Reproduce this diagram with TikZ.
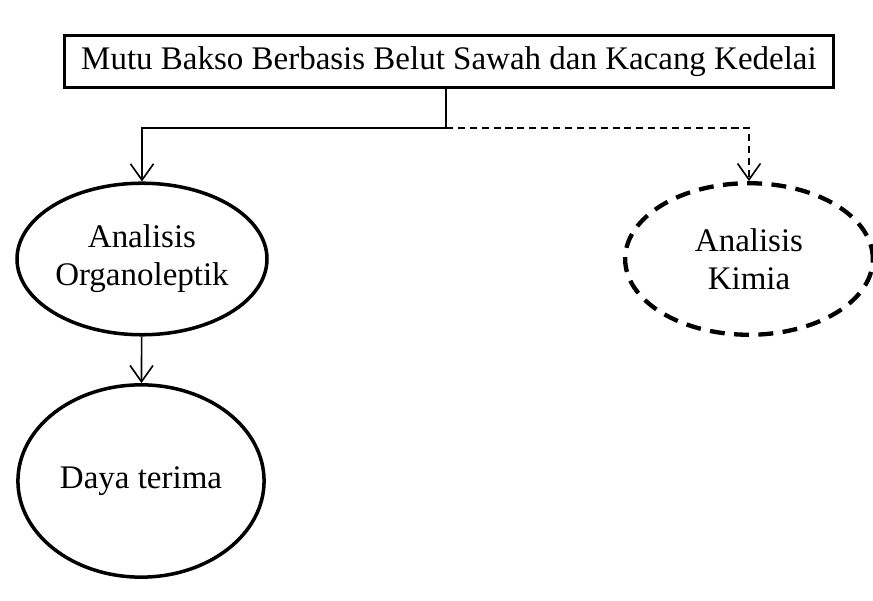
\documentclass[tikz,border=0pt]{standalone}
\usepackage{fontspec}
\setmainfont{Liberation Serif}
\usetikzlibrary{shapes.geometric,arrows.meta}

\begin{document}
\begin{tikzpicture}[x=0.013cm,y=-0.013cm,
	font=\fontsize{12.2}{14}\selectfont,
	kotak/.style={draw,line width=1.1pt,minimum width=10cm,minimum height=0.68cm,inner sep=0pt},
	elips/.style={draw,ellipse,line width=1.3pt,align=center,inner sep=0pt},
	panah/.style={line width=0.6pt,-{Straight Barb[length=6pt,width=8.5pt]}}]
	\useasboundingbox (0,0) rectangle (873,601);
	\node[kotak] (mutu) at (449,61.5) {Mutu Bakso Berbasis Belut Sawah dan Kacang Kedelai};
	\node[elips,minimum width=3.25cm,minimum height=1.97cm] (org) at (142,259) {Analisis\\Organoleptik};
	\node[elips,minimum width=3.2cm,minimum height=2.5cm] (daya) at (141,481) {Daya terima};
	\node[elips,dash pattern=on 5.5pt off 3.5pt,line width=1.6pt,minimum width=3.22cm,minimum height=1.97cm] (kim) at (749,259) {Analisis\\Kimia};
	\coordinate (cab) at (446,128);
	\draw[line width=0.6pt] (mutu.south -| cab) -- (cab);
	\draw[panah] (cab) -| (org.north);
	\draw[panah,dash pattern=on 2.6pt off 1.8pt] (cab) -| (kim.north);
	\draw[panah] (org) -- (daya);
\end{tikzpicture}
\end{document}
